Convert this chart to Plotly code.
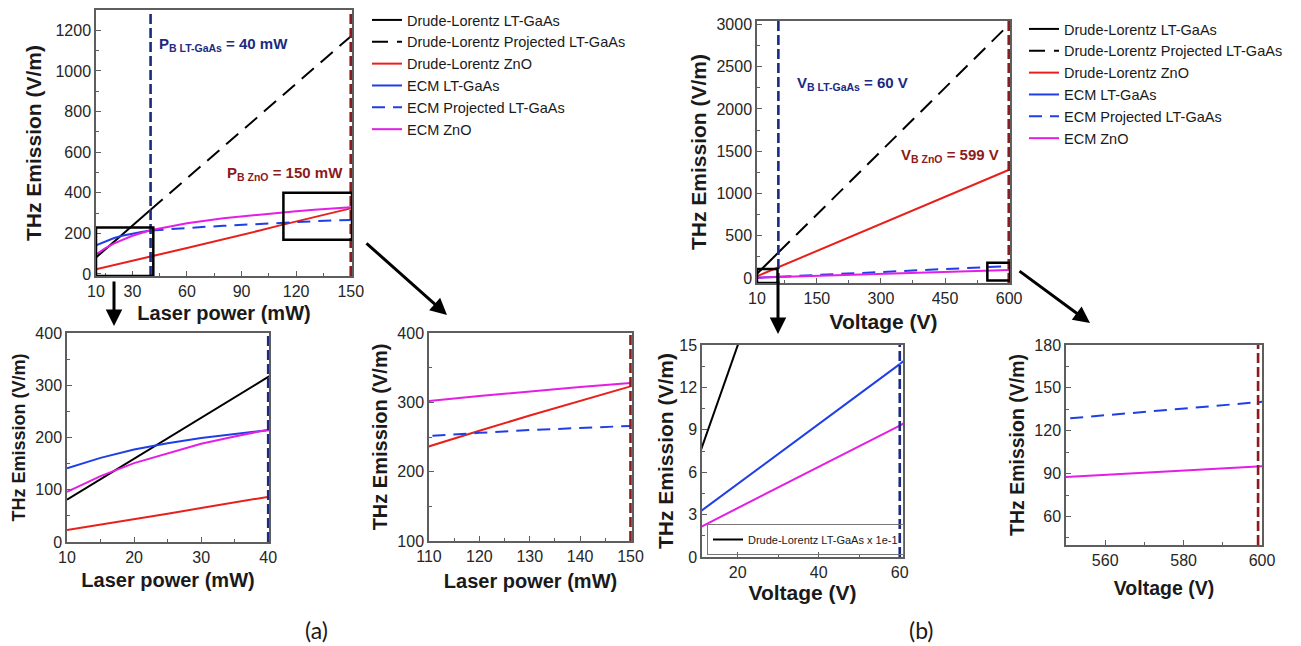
import plotly.graph_objects as go

# reference canvas is 1301x646; the page body adds an 8px offset, so the figure is 8px smaller
REF_W, REF_H = 1301, 646
OFF = 8
FW, FH = REF_W - OFF, REF_H - OFF
FONT = "Liberation Sans, Arial, sans-serif"

# ---------------- (a) Laser power sweep ----------------
power_gaas = [10, 15, 20, 25, 30, 35, 40]
dl_gaas_power = [81, 120, 159, 198, 237, 276, 316]
ecm_gaas_power = [141, 161, 177, 189, 199, 207, 214]

power_proj_dl = [40, 150]
dl_proj_power = [316, 1170]

power_proj_ecm = [40, 50, 60, 70, 80, 90, 100, 110, 120, 130, 140, 150]
ecm_proj_power = [214, 221, 227, 232, 237, 242, 247, 252, 256, 260, 263, 266]

power_zno = [10, 15, 20, 25, 30, 35, 40, 60, 80, 100, 110, 120, 130, 140, 150]
dl_zno_power = [23, 33, 43, 54, 65, 75, 86, 128, 170, 214, 237, 259, 281, 302, 323]
ecm_zno_power = [96, 126, 151, 170, 188, 202, 215, 250, 274, 292, 302, 309, 316, 322, 328]

breakdown_power_gaas = 40
breakdown_power_zno = 150

# ---------------- (b) Voltage sweep ----------------
volt_gaas = [10, 60]
dl_gaas_volt = [50, 300]
ecm_gaas_volt = [3.05, 13.65]

volt_proj = [60, 600]
dl_proj_volt = [300, 3000]
ecm_proj_volt = [13.65, 140.2]

volt_zno_dl = [10, 600]
dl_zno_volt = [20, 1280]
volt_zno_ecm = [10, 60, 550, 600]
ecm_zno_volt = [2.0, 9.3, 87.6, 95.1]

volt_gaas_scaled = [10, 22]
dl_gaas_volt_scaled = [6.8, 16.6]   # Drude-Lorentz LT-GaAs x 1e-1 (inset)

breakdown_volt_gaas = 60
breakdown_volt_zno = 599

names = ["Drude-Lorentz LT-GaAs", "Drude-Lorentz Projected LT-GaAs", "Drude-Lorentz ZnO",
         "ECM LT-GaAs", "ECM Projected LT-GaAs", "ECM ZnO"]

BLACK, RED, BLUE, MAGENTA = "#000000", "#e8201c", "#1f3fe6", "#e41ee4"
NAVY, MAROON = "#1b2a82", "#8c1b1b"
DASH_BLACK = "16px,9px"
DASH_BLUE = "13px,8px"

series_a = [
    (names[0], power_gaas, dl_gaas_power, BLACK, "solid"),
    (names[1], power_proj_dl, dl_proj_power, BLACK, DASH_BLACK),
    (names[2], power_zno, dl_zno_power, RED, "solid"),
    (names[3], power_gaas, ecm_gaas_power, BLUE, "solid"),
    (names[4], power_proj_ecm, ecm_proj_power, BLUE, DASH_BLUE),
    (names[5], power_zno, ecm_zno_power, MAGENTA, "solid"),
]
series_b = [
    (names[0], volt_gaas, dl_gaas_volt, BLACK, "solid"),
    (names[1], volt_proj, dl_proj_volt, BLACK, DASH_BLACK),
    (names[2], volt_zno_dl, dl_zno_volt, RED, "solid"),
    (names[3], volt_gaas, ecm_gaas_volt, BLUE, "solid"),
    (names[4], volt_proj, ecm_proj_volt, BLUE, DASH_BLUE),
    (names[5], volt_zno_ecm, ecm_zno_volt, MAGENTA, "solid"),
]

fig = go.Figure()


def add_series(series, xa, ya, legend=None, skip=()):
    for i, (nm, xs, ys, col, dash) in enumerate(series):
        if i in skip:
            continue
        fig.add_trace(go.Scatter(
            x=xs, y=ys, mode="lines", name=nm, xaxis=xa, yaxis=ya,
            line=dict(color=col, width=2, dash=dash),
            showlegend=legend is not None, legend=legend or "legend",
            hoverinfo="x+y+name"))


# panel (a)
add_series(series_a, "x", "y", legend="legend")
add_series(series_a, "x2", "y2")
add_series(series_a, "x3", "y3")
# panel (b)
add_series(series_b, "x4", "y4", legend="legend2")
add_series(series_b, "x5", "y5", skip=(0,))
fig.add_trace(go.Scatter(
    x=volt_gaas_scaled, y=dl_gaas_volt_scaled, mode="lines", xaxis="x5", yaxis="y5",
    name="Drude-Lorentz LT-GaAs x 1e-1", line=dict(color=BLACK, width=2),
    showlegend=True, legend="legend3"))
add_series(series_b, "x6", "y6")


def px(x):
    return (x - OFF) / FW


def py(y):
    return 1 - (y - OFF) / FH


def dx(l, r):
    return [px(l), px(r)]


def dy(t, b):
    return [py(b), py(t)]


def axis(dom, rng, anchor, title, tsize, standoff, tickvals=None, dtick=None,
         minor_vals=None, minor_dtick=None, tick0=None):
    a = dict(domain=dom, range=rng, anchor=anchor, showline=True, mirror=True,
             linecolor="#5e5e5e", linewidth=1.5, ticks="inside", ticklen=5,
             tickwidth=1.2, tickcolor="#5e5e5e", showgrid=False, zeroline=False,
             automargin=False,
             tickfont=dict(size=16, color="#262626", family=FONT),
             title=dict(text="<b>" + title + "</b>", standoff=standoff,
                        font=dict(size=tsize, color="#1a1a1a", family=FONT)))
    if tickvals is not None:
        a.update(tickmode="array", tickvals=tickvals)
    else:
        a.update(tickmode="linear", dtick=dtick, tick0=tick0 if tick0 is not None else 0)
    m = dict(ticks="inside", ticklen=3, tickcolor="#5e5e5e", tickwidth=1, showgrid=False)
    if minor_vals is not None:
        m.update(tickmode="array", tickvals=minor_vals)
    elif minor_dtick is not None:
        m.update(dtick=minor_dtick)
    else:
        m = None
    if m:
        a["minor"] = m
    return a


YT = "THz Emission (V/m)"
fig.update_layout(
    width=FW, height=FH, margin=dict(l=0, r=0, t=0, b=0, pad=0, autoexpand=False),
    plot_bgcolor="white", paper_bgcolor="white",
    font=dict(family=FONT, color="#1a1a1a"),
    # (a) main
    xaxis=axis(dx(96, 352), [10, 150.7], "y", "Laser power (mW)", 20, 7,
               tickvals=[10, 30, 60, 90, 120, 150], minor_vals=[15, 45, 75, 105, 135]),
    yaxis=axis(dy(10, 276), [-10, 1300], "x", YT, 21, 8, dtick=200, minor_dtick=100),
    # (a) inset 1
    xaxis2=axis(dx(67, 269), [10, 40.12], "y2", "Laser power (mW)", 20, 8, dtick=10, minor_dtick=5),
    yaxis2=axis(dy(333, 542), [0, 400], "x2", YT, 18, 5, dtick=100, minor_dtick=50),
    # (a) inset 2
    xaxis3=axis(dx(429, 632), [110, 150.3], "y3", "Laser power (mW)", 20, 10, dtick=10, minor_dtick=5),
    yaxis3=axis(dy(333, 541), [100, 400], "x3", YT, 20, 4, dtick=100, minor_dtick=50),
    # (b) main
    xaxis4=axis(dx(757, 1010), [10, 602], "y4", "Voltage (V)", 21, 8,
                tickvals=[10, 150, 300, 450, 600], minor_vals=[75, 225, 375, 525]),
    yaxis4=axis(dy(21, 283), [-60, 3040], "x4", YT, 21, 4, dtick=500, minor_dtick=250),
    # (b) inset 3
    xaxis5=axis(dx(702, 903), [11.2, 60.8], "y5", "Voltage (V)", 21, 4, dtick=20, minor_dtick=10),
    yaxis5=axis(dy(345, 557), [0, 15], "x5", YT, 21, 0, dtick=3, minor_dtick=1.5),
    # (b) inset 4
    xaxis6=axis(dx(1066, 1262), [550, 600], "y6", "Voltage (V)", 19.5, 13, dtick=20, minor_dtick=10),
    yaxis6=axis(dy(345, 545), [40, 180], "x6", YT, 19.5, 5, dtick=30, tick0=0, minor_dtick=15),
    legend=dict(x=px(367), y=py(4), xanchor="left", yanchor="top",
                font=dict(size=14.5, color="#1a1a1a", family=FONT),
                bgcolor="rgba(0,0,0,0)", tracegroupgap=0, itemwidth=30),
    legend2=dict(x=px(1024), y=py(13), xanchor="left", yanchor="top",
                 font=dict(size=14.5, color="#1a1a1a", family=FONT),
                 bgcolor="rgba(0,0,0,0)", tracegroupgap=0, itemwidth=30),
    legend3=dict(x=px(707), y=py(555), xanchor="left", yanchor="bottom",
                 font=dict(size=11, color="#1a1a1a", family=FONT),
                 bgcolor="rgba(255,255,255,0)", bordercolor="#777", borderwidth=1, itemwidth=30),
    showlegend=True,
)

shapes = []


def vline(x, xa, ya, col):
    shapes.append(dict(type="line", xref=xa, yref=ya + " domain", x0=x, x1=x, y0=0, y1=1,
                       line=dict(color=col, width=2.6, dash="10px,4px"), layer="above"))


vline(breakdown_power_gaas, "x", "y", NAVY)
vline(breakdown_power_zno, "x", "y", MAROON)
vline(breakdown_power_gaas, "x2", "y2", NAVY)
vline(breakdown_power_zno, "x3", "y3", MAROON)
vline(breakdown_volt_gaas, "x4", "y4", NAVY)
vline(breakdown_volt_zno, "x4", "y4", MAROON)
vline(breakdown_volt_gaas, "x5", "y5", NAVY)
vline(breakdown_volt_zno, "x6", "y6", MAROON)


def zoom_box(xa, ya, x0, x1, y0, y1):
    shapes.append(dict(type="rect", xref=xa, yref=ya, x0=x0, x1=x1, y0=y0, y1=y1,
                       line=dict(color="black", width=2.5), layer="above"))


zoom_box("x", "y", 10, 41.5, -10, 229)
zoom_box("x", "y", 113, 150.7, 168, 400)
zoom_box("x4", "y4", 10, 58, -60, 105)
zoom_box("x4", "y4", 549, 602, -30, 180)

fig.update_layout(shapes=shapes)

ann = []


def label(text, x, y, xa, ya, col):
    ann.append(dict(text=text, x=x, y=y, xref=xa, yref=ya, xanchor="left", yanchor="middle",
                    showarrow=False, font=dict(size=15, color=col, family=FONT)))


label("<b>P<sub>B LT-GaAs</sub> = 40 mW</b>", 43.4, 1128, "x", "y", NAVY)
label("<b>P<sub>B ZnO</sub> = 150 mW</b>", 81, 497, "x", "y", MAROON)
label("<b>V<sub>B LT-GaAs</sub> = 60 V</b>", 98, 2298, "x4", "y4", NAVY)
label("<b>V<sub>B ZnO</sub> = 599 V</b>", 343, 1449, "x4", "y4", MAROON)


def arrow(hx, hy, tx, ty):
    ann.append(dict(x=px(hx), y=py(hy), xref="paper", yref="paper", text="",
                    showarrow=True, ax=tx - hx, ay=ty - hy, arrowhead=2, arrowsize=1.1,
                    arrowwidth=3, arrowcolor="black", standoff=0))


arrow(114, 326, 114, 280)
arrow(447, 315, 365, 242)
arrow(778, 334, 778, 280)
arrow(1090, 323, 1018, 270)

for t, xc in (("(a)", 316), ("(b)", 921)):
    ann.append(dict(text=t, x=px(xc), y=py(630), xref="paper", yref="paper",
                    xanchor="center", yanchor="middle", showarrow=False,
                    font=dict(size=23, color="#1a1a1a", family="Lato, Open Sans, sans-serif")))

fig.update_layout(annotations=ann)

fig.write_html("out.html")
